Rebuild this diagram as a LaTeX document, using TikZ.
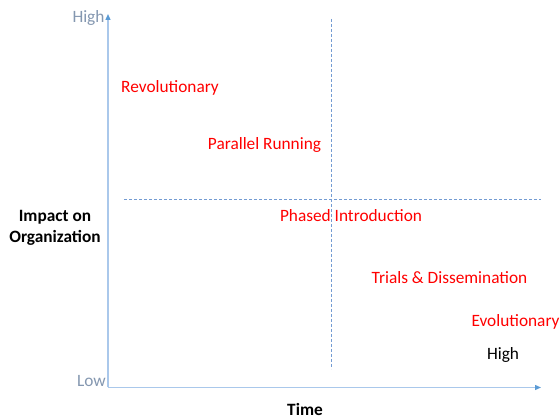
\documentclass[tikz,border=0pt]{standalone}
\usepackage{fontspec}
\setmainfont{Carlito}
\usetikzlibrary{arrows.meta}
\definecolor{axisline}{RGB}{170,200,235}
\definecolor{axisdark}{RGB}{91,155,213}
\definecolor{dashcol}{RGB}{115,155,210}
\definecolor{lblgray}{RGB}{132,151,176}
\definecolor{myred}{RGB}{255,0,0}
\tikzset{
  axis/.style={draw=axisline, line width=1.2pt, -{Triangle[length=6pt,width=5pt,color=axisdark]}},
  divider/.style={draw=dashcol, line width=0.7pt, dash pattern=on 3pt off 2pt},
  redlbl/.style={text=myred, font=\fontsize{17.3}{20}\selectfont, inner sep=0pt},
  graylbl/.style={text=lblgray, font=\fontsize{17.3}{20}\selectfont, inner sep=0pt},
  blacklbl/.style={text=black, font=\fontsize{17.3}{20}\selectfont, inner sep=0pt},
  boldlbl/.style={text=black, font=\bfseries\fontsize{17.3}{20.5}\selectfont, inner sep=0pt, align=center},
}
\begin{document}
\begin{tikzpicture}[x=1pt,y=-1pt]
\useasboundingbox (0,0) rectangle (560,419);
% axes
\coordinate (origin) at (108,387.5);
\coordinate (ytop) at (108,14);
\coordinate (xend) at (541,387.5);
\draw[axis] (origin) -- (ytop);
\draw[axis] (origin) -- (xend);
% dividers
\coordinate (vtop) at (331,19);
\coordinate (vbot) at (331,369);
\coordinate (hleft) at (124,199.5);
\coordinate (hright) at (541,199.5);
\draw[divider] (vtop) -- (vbot);
\draw[divider] (hleft) -- (hright);
% labels
\node[graylbl] (hiY) at (88.5,18) {High};
\node[graylbl] (loY) at (91.5,381) {Low};
\node[boldlbl] (yaxis) at (55,228) {Impact on\\Organization};
\node[boldlbl] (xaxis) at (305,409) {Time};
\node[blacklbl] (hiX) at (503,355) {High};
\node[redlbl] (rev) at (170,87.5) {Revolutionary};
\node[redlbl] (par) at (264.5,144.5) {Parallel Running};
\node[redlbl] (pha) at (351,216) {Phased Introduction};
\node[redlbl] (tri) at (449.5,278) {Trials \& Dissemination};
\node[redlbl] (evo) at (515.5,322) {Evolutionary};
\end{tikzpicture}
\end{document}
